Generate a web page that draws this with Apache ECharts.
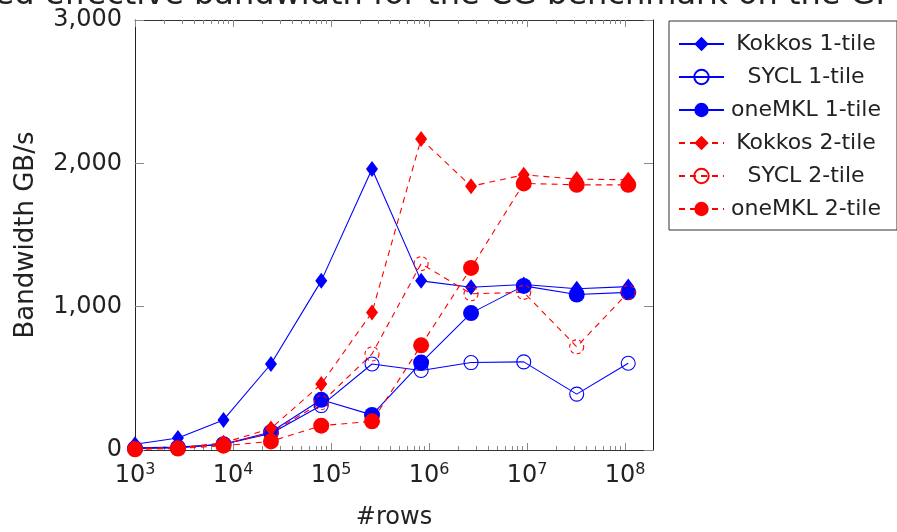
<!DOCTYPE html>
<html>
<head>
<meta charset="utf-8">
<script src="https://cdn.jsdelivr.net/npm/echarts@6/dist/echarts.min.js"></script>
<style>
html,body{margin:0;padding:0;background:#fff;}
#chart{width:897px;height:532px;}
</style>
</head>
<body>
<div id="chart"></div>
<script>
// ---- data ----
var titleText = 'Achieved effective bandwidth for the CG benchmark on the GPU';
var rows = [1000, 2744, 8000, 24389, 79507, 262144, 830584, 2685619, 9261000, 32157432, 107850176];
var kokkos1 = [40, 84, 210, 600, 1180, 1960, 1180, 1135, 1155, 1125, 1140];
var sycl1   = [15, 20, 40, 115, 310, 600, 555, 610, 615, 390, 605];
var onemkl1 = [10, 15, 40, 125, 350, 245, 610, 955, 1145, 1085, 1100];
var kokkos2 = [10, 15, 50, 150, 460, 960, 2170, 1840, 1920, 1890, 1885];
var sycl2   = [10, 15, 40, 120, 330, 670, 1300, 1090, 1100, 720, 1100];
var onemkl2 = [5, 10, 30, 60, 170, 200, 730, 1270, 1860, 1850, 1850];
var seriesNames = ['Kokkos 1-tile', 'SYCL 1-tile', 'oneMKL 1-tile', 'Kokkos 2-tile', 'SYCL 2-tile', 'oneMKL 2-tile'];
var majorTicks = [1e3, 1e4, 1e5, 1e6, 1e7, 1e8];
var yTicks = [0, 1000, 2000, 3000];
var xName = '#rows';
var yName = 'Bandwidth GB/s';

// ---- chart ----
var BLUE = '#0000ff', RED = '#ff0000', TXT = '#222';
var FONT = '"DejaVu Sans", sans-serif';
var XMIN = 1000, XMAX = 1.93e8;

var minorTicks = [];
for (var d = 3; d <= 8; d++) {
  for (var k = 2; k <= 9; k++) {
    var v = k * Math.pow(10, d);
    if (v < XMAX) minorTicks.push(v);
  }
}

function pairs(arr) { return rows.map(function (r, i) { return [r, arr[i]]; }); }

function makeX(pos, major, showLine) {
  return {
    type: 'log', logBase: 10, min: XMIN, max: XMAX, position: pos, gridIndex: 0,
    axisLine: { show: showLine, onZero: false, lineStyle: { color: '#333', width: 1 } },
    axisTick: { show: true, inside: true, length: major ? 7 : 4, customValues: major ? majorTicks : minorTicks,
      lineStyle: { color: '#888', width: 1 } },
    axisLabel: (major && pos === 'bottom') ? {
      show: true, customValues: majorTicks, margin: 12,
      formatter: function (v) { return '{b|10}{e|' + Math.round(Math.log10(v)) + '}'; },
      rich: {
        b: { fontSize: 24, fontFamily: FONT, color: TXT, lineHeight: 28 },
        e: { fontSize: 16, fontFamily: FONT, color: TXT, lineHeight: 16, verticalAlign: 'top' }
      }
    } : { show: false },
    splitLine: { show: false },
    name: (major && pos === 'bottom') ? xName : '',
    nameLocation: 'middle', nameGap: 56,
    nameTextStyle: { fontSize: 24, fontFamily: FONT, color: TXT }
  };
}

function makeY(pos, showLabel) {
  return {
    type: 'value', min: 0, max: 3000, interval: 1000, position: pos, gridIndex: 0,
    axisLine: { show: true, onZero: false, lineStyle: { color: '#222', width: 1 } },
    axisTick: { show: true, inside: true, length: 9, lineStyle: { color: '#888', width: 1 } },
    axisLabel: showLabel ? { show: true, fontSize: 24, fontFamily: FONT, color: TXT, margin: 13,
      formatter: function (v) { return v.toLocaleString('en-US'); } } : { show: false },
    splitLine: { show: false },
    name: showLabel ? yName : '',
    nameLocation: 'middle', nameRotate: 90, nameGap: 96,
    nameTextStyle: { fontSize: 26, fontFamily: FONT, color: TXT }
  };
}

function lineSeries(name, data, color, dashed, symbol, size, hollow) {
  return {
    name: name, type: 'line', data: pairs(data),
    xAxisIndex: 0, yAxisIndex: 0,
    symbol: symbol, symbolSize: size, showSymbol: true, showAllSymbol: true,
    lineStyle: { color: color, width: 1.1, type: dashed ? [6, 5] : 'solid' },
    itemStyle: hollow ? { color: 'rgba(255,255,255,0)', borderColor: color, borderWidth: 1.1, borderType: dashed ? [4, 3] : 'solid' }
                      : { color: color, borderWidth: 0 },
    emphasis: { disabled: true },
    animation: false
  };
}

var chart = echarts.init(document.getElementById('chart'), null, { renderer: 'canvas' });
chart.setOption({
  backgroundColor: '#fff',
  animation: false,
  textStyle: { fontFamily: FONT },
  grid: { left: 135, right: 244, top: 20, bottom: 82, containLabel: false, outerBoundsMode: 'none' },
  graphic: [{
    type: 'text', x: 403, y: 12, silent: true,
    style: { text: titleText, fontSize: 32, fontFamily: FONT, fill: TXT, align: 'center', verticalAlign: 'bottom' }
  }],
  legend: {
    orient: 'vertical', left: 669, top: 21,
    padding: [12, 14, 10, 9], itemWidth: 45, itemHeight: 18, itemGap: 11,
    borderColor: '#333', borderWidth: 1, backgroundColor: '#fff',
    selectedMode: false,
    data: seriesNames,
    formatter: function (n) { return '{a|' + n + '}'; },
    textStyle: { rich: { a: { width: 154, align: 'center', fontSize: 22, fontFamily: FONT, color: TXT, lineHeight: 24 } } }
  },
  xAxis: [makeX('bottom', true, true), makeX('bottom', false, false), makeX('top', true, true), makeX('top', false, false)],
  yAxis: [makeY('left', true), makeY('right', false)],
  series: [
    lineSeries(seriesNames[0], kokkos1, BLUE, false, 'diamond', [12, 16], false),
    lineSeries(seriesNames[1], sycl1, BLUE, false, 'circle', 14, true),
    lineSeries(seriesNames[2], onemkl1, BLUE, false, 'circle', 16, false),
    lineSeries(seriesNames[3], kokkos2, RED, true, 'diamond', [12, 16], false),
    lineSeries(seriesNames[4], sycl2, RED, true, 'circle', 14, true),
    lineSeries(seriesNames[5], onemkl2, RED, true, 'circle', 16, false)
  ]
});
</script>
</body>
</html>
